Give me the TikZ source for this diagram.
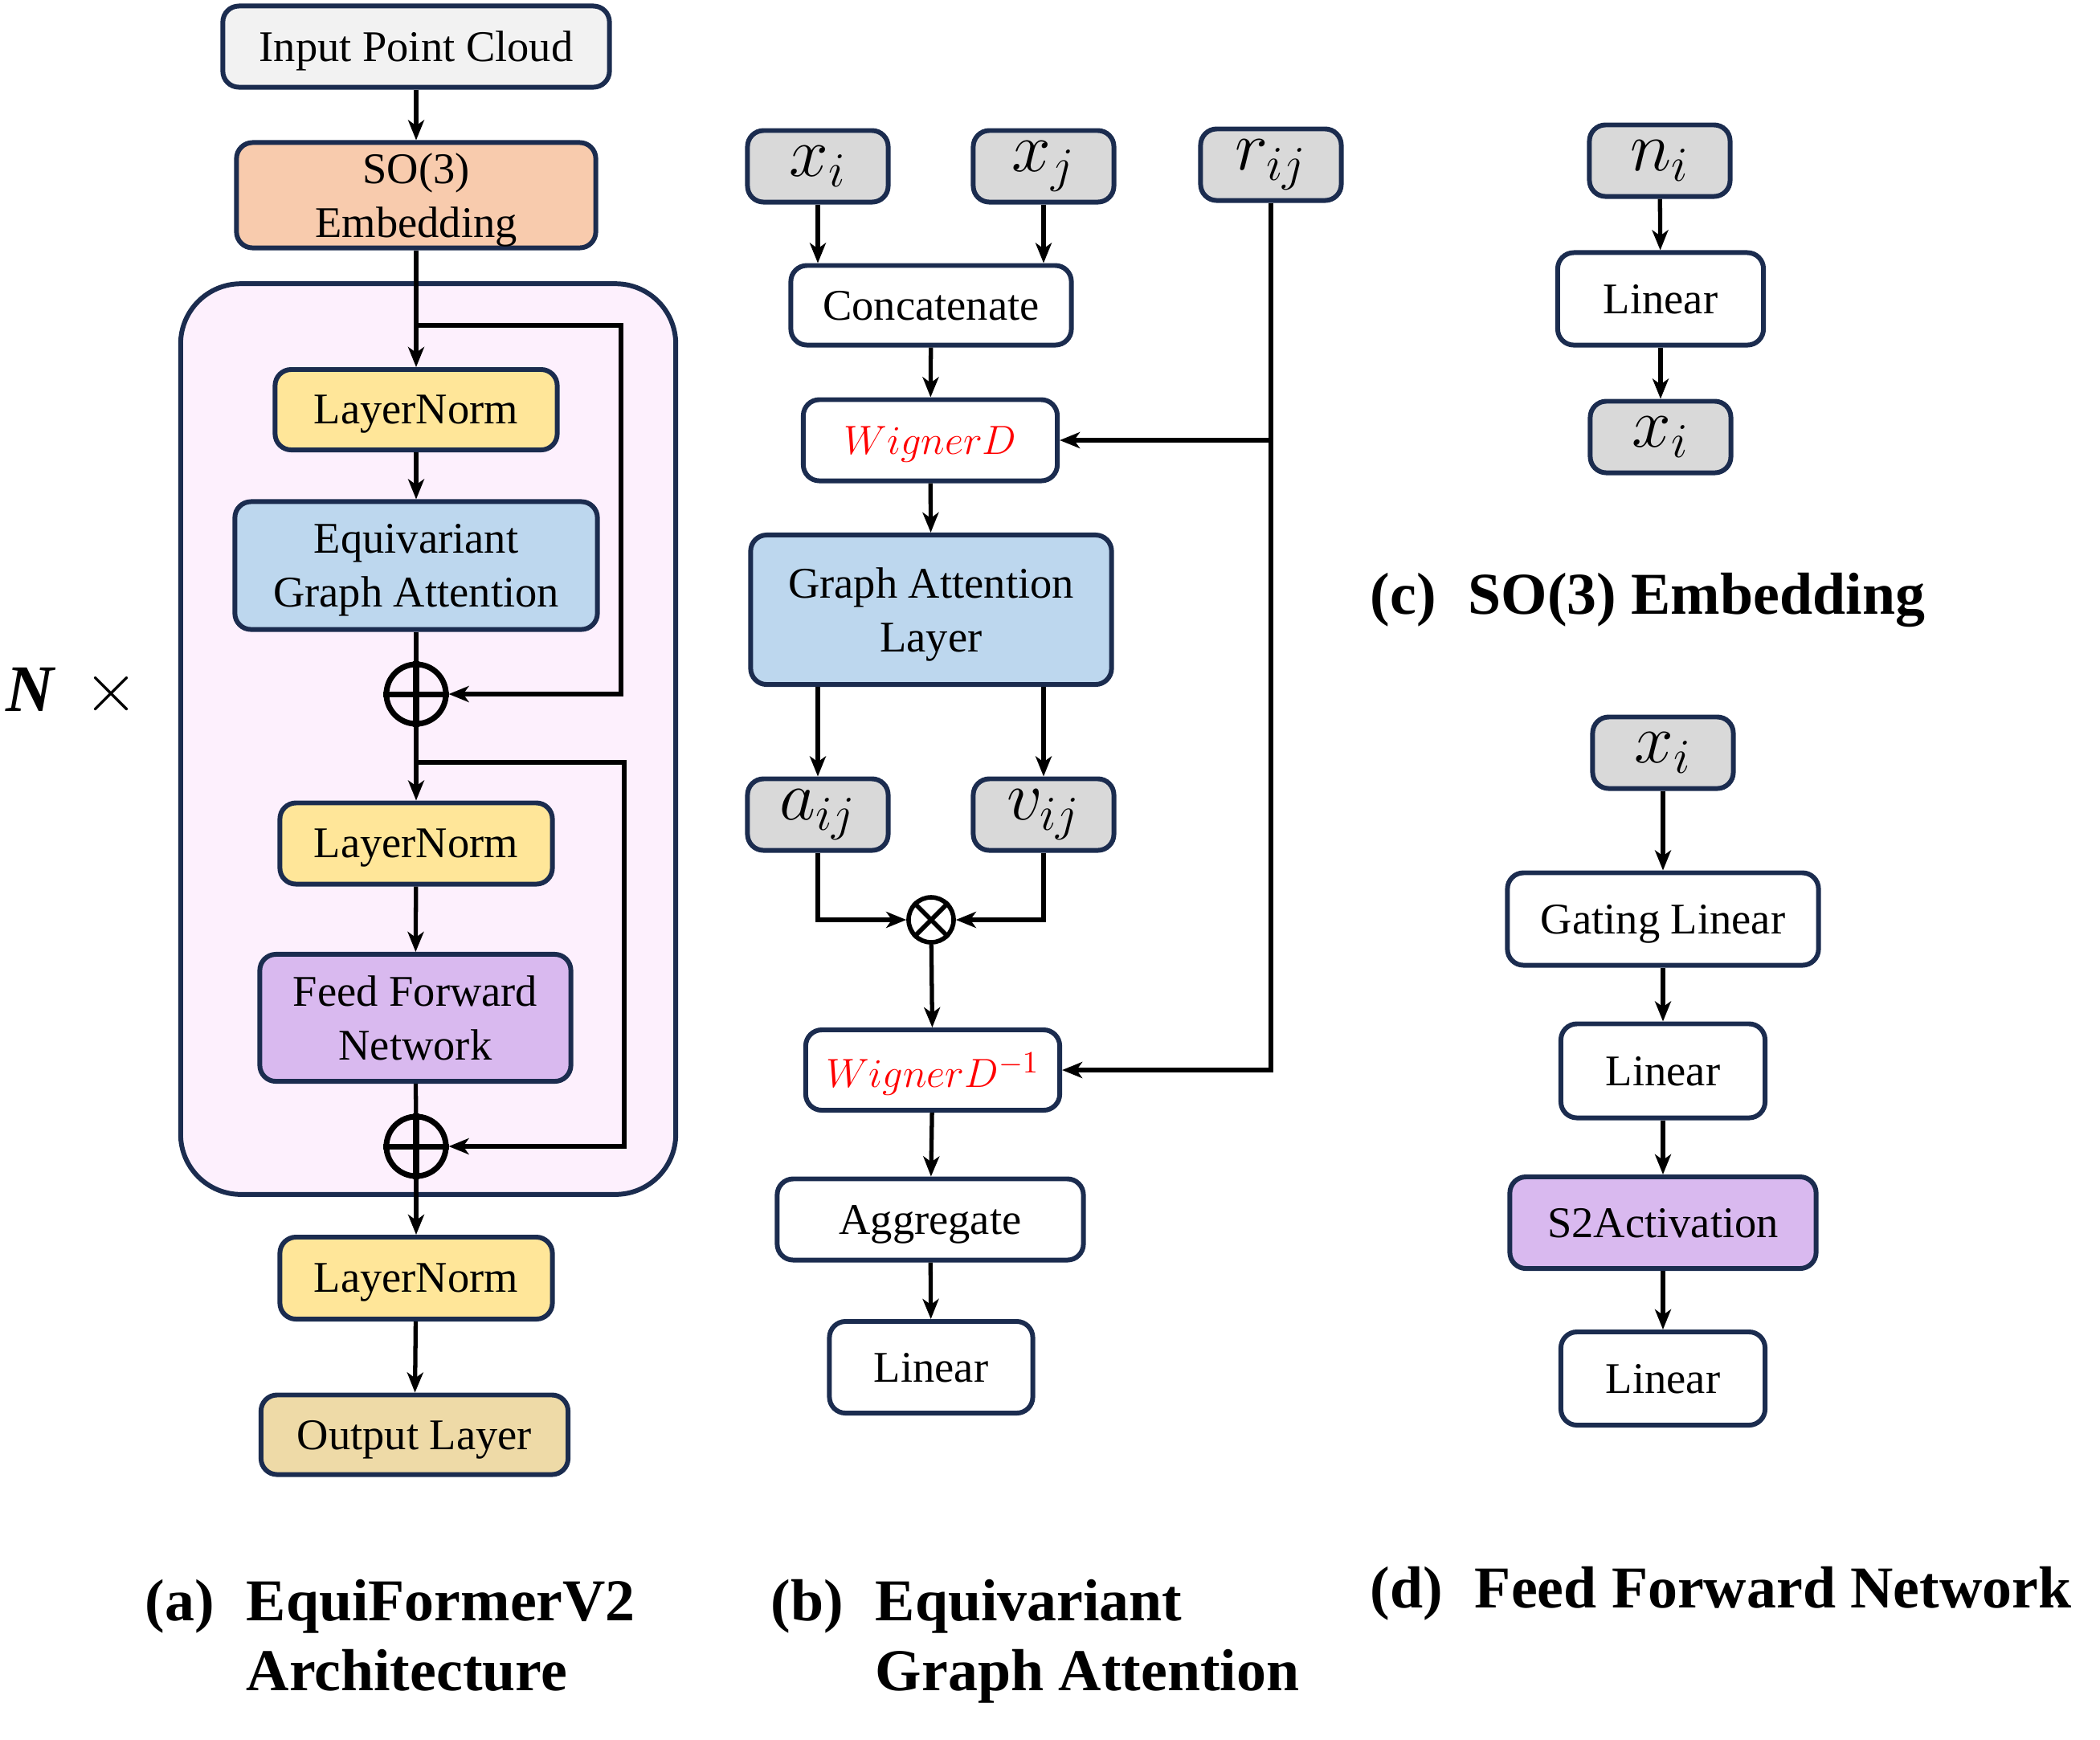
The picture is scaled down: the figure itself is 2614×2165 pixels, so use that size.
\documentclass[tikz,border=0pt]{standalone}
\usepackage{fontspec}
\setmainfont{Liberation Serif}
\usetikzlibrary{arrows.meta}

\definecolor{boxline}{HTML}{1B2C4F}
\definecolor{inputgray}{HTML}{F2F2F2}
\definecolor{vargray}{HTML}{D9D9D9}
\definecolor{embpeach}{HTML}{F8CBAD}
\definecolor{normyellow}{HTML}{FFE699}
\definecolor{attnblue}{HTML}{BDD7EE}
\definecolor{ffnpurple}{HTML}{D9B9EF}
\definecolor{outtan}{HTML}{EEDAA7}
\definecolor{blockpink}{HTML}{FDF0FD}

\tikzset{
  boxbase/.style={draw=boxline, line width=1.7pt, rounded corners=0.2cm, fill=white,
    align=center, inner sep=0pt},
  block/.style={boxbase, text depth=0pt, font=\fontsize{15.5}{19}\selectfont},
  var/.style={boxbase, fill=vargray, minimum width=1.75cm, minimum height=0.89cm,
    font=\fontsize{24}{26}\selectfont},
  wire/.style={line width=1.5pt},
  arr/.style={wire, -{Stealth[length=0.25cm,width=0.2cm,inset=0.07cm]}},
  sumop/.style={circle, draw, line width=2pt, minimum size=0.74cm, inner sep=0pt},
  mulop/.style={circle, draw, line width=1.6pt, minimum size=0.56cm, inner sep=0pt},
  captext/.style={font=\fontsize{21}{25}\selectfont\bfseries, inner sep=0pt}
}

\begin{document}
\begin{tikzpicture}[x=0.01cm, y=-0.01cm]
  \useasboundingbox (0,0) rectangle (2614,2165);

  % (a) EquiFormerV2
  \node[boxbase, fill=blockpink, rounded corners=0.75cm, minimum width=6.16cm, minimum height=11.33cm] (blk) at (533,920) {};
  \node[block, fill=inputgray, minimum width=4.81cm, minimum height=1.01cm] (inp) at (518,58) {Input Point Cloud};
  \node[block, fill=embpeach, minimum width=4.47cm, minimum height=1.31cm] (so3) at (518,243) {SO(3)\\Embedding};
  \node[block, fill=normyellow, minimum width=3.51cm, minimum height=1.0cm] (ln1) at (518,510) {LayerNorm};
  \node[block, fill=attnblue, minimum width=4.51cm, minimum height=1.59cm] (ega) at (518,704) {Equivariant\\Graph Attention};
  \node[sumop] (add1) at (518,864) {};
  \node[block, fill=normyellow, minimum width=3.39cm, minimum height=1.01cm] (ln2) at (518,1050) {LayerNorm};
  \node[block, fill=ffnpurple, minimum width=3.87cm, minimum height=1.58cm] (ffn) at (517,1267) {Feed Forward\\Network};
  \node[sumop] (add2) at (518,1427) {};
  \node[block, fill=normyellow, minimum width=3.39cm, minimum height=1.02cm] (ln3) at (518,1591) {LayerNorm};
  \node[block, fill=outtan, minimum width=3.82cm, minimum height=0.99cm] (out) at (516,1786) {Output Layer};
  \node[font=\fontsize{23.5}{26}\selectfont, inner sep=0pt] (rep) at (90,862) {\textbf{\textit{N}}\hspace{0.35cm}$\times$};

  \coordinate (sk1) at (773,405);
  \coordinate (sk2) at (777,949);

  \draw[arr] (inp) -- (so3);
  \draw[arr] (so3) -- (ln1);
  \draw[arr] (so3.south |- sk1) -- (sk1) |- (add1.east);
  \draw[arr] (ln1) -- (ega);
  \draw[wire] (ega) -- (add1);
  \draw[line width=2pt] (add1.north) -- (add1.south) (add1.west) -- (add1.east);
  \draw[arr] (add1) -- (ln2);
  \draw[arr] (add1.south |- sk2) -- (sk2) |- (add2.east);
  \draw[arr] (ln2) -- (ffn);
  \draw[wire] (ffn) -- (add2);
  \draw[line width=2pt] (add2.north) -- (add2.south) (add2.west) -- (add2.east);
  \draw[arr] (add2) -- (ln3);
  \draw[arr] (ln3) -- (out);

  % (b) graph attention
  \node[var] (xi) at (1018,207) {$x_i$};
  \node[var] (xj) at (1299,207) {$x_j$};
  \node[var] (rij) at (1582,205) {$r_{ij}$};
  \node[block, minimum width=3.49cm, minimum height=0.99cm] (cat) at (1159,380) {Concatenate};
  \node[block, minimum width=3.16cm, minimum height=1.01cm, font=\fontsize{15}{18}\selectfont] (wd) at (1158,548) {\color{red}$WignerD$};
  \node[block, fill=attnblue, minimum width=4.49cm, minimum height=1.86cm] (gal) at (1159,759) {Graph Attention\\Layer};
  \node[var] (aij) at (1018,1014) {$a_{ij}$};
  \node[var] (vij) at (1299,1014) {$v_{ij}$};
  \node[mulop] (mul) at (1159,1145) {};
  \node[block, minimum width=3.16cm, minimum height=1.0cm, font=\fontsize{15}{18}\selectfont] (wdi) at (1161,1332) {\color{red}$WignerD^{-1}$};
  \node[block, minimum width=3.81cm, minimum height=1.01cm] (agg) at (1158,1518) {Aggregate};
  \node[block, minimum width=2.53cm, minimum height=1.14cm] (lin1) at (1159,1702) {Linear};

  \draw[arr] (xi) -- (xi |- cat.north);
  \draw[arr] (xj) -- (xj |- cat.north);
  \draw[arr] (cat) -- (wd);
  \draw[arr] (rij) |- (wd);
  \draw[arr] (rij) |- (wdi);
  \draw[arr] (wd) -- (gal);
  \draw[arr] (gal.south -| aij) -- (aij);
  \draw[arr] (gal.south -| vij) -- (vij);
  \draw[arr] (aij) |- (mul);
  \draw[arr] (vij) |- (mul);
  \draw[line width=1.6pt] (mul.45) -- (mul.225) (mul.135) -- (mul.315);
  \draw[arr] (mul) -- (wdi);
  \draw[arr] (wdi) -- (agg);
  \draw[arr] (agg) -- (lin1);

  % (c) SO(3) embedding
  \node[var] (ni) at (2066,200) {$n_i$};
  \node[block, minimum width=2.56cm, minimum height=1.15cm] (lin2) at (2067,372) {Linear};
  \node[var] (xe) at (2067,544) {$x_i$};
  \draw[arr] (ni) -- (lin2);
  \draw[arr] (lin2) -- (xe);

  % (d) feed forward
  \node[var] (xf) at (2070,937) {$x_i$};
  \node[block, minimum width=3.87cm, minimum height=1.15cm] (gate) at (2070,1144) {Gating Linear};
  \node[block, minimum width=2.54cm, minimum height=1.17cm] (lin3) at (2070,1333) {Linear};
  \node[block, fill=ffnpurple, minimum width=3.81cm, minimum height=1.14cm] (s2a) at (2070,1522) {S2Activation};
  \node[block, minimum width=2.54cm, minimum height=1.16cm] (lin4) at (2070,1716) {Linear};
  \draw[arr] (xf) -- (gate);
  \draw[arr] (gate) -- (lin3);
  \draw[arr] (lin3) -- (s2a);
  \draw[arr] (s2a) -- (lin4);

  % captions
  \node[captext, anchor=base west] (capa) at (180,2017) {\begin{tabular}[t]{@{}l@{\hspace{0.4cm}}l@{}}(a) & EquiFormerV2\\ & Architecture\end{tabular}};
  \node[captext, anchor=base west] (capb) at (959,2017) {\begin{tabular}[t]{@{}l@{\hspace{0.4cm}}l@{}}(b) & Equivariant\\ & Graph Attention\end{tabular}};
  \node[captext, anchor=base west] (capc) at (1705,764) {(c)\hspace{0.4cm}SO(3) Embedding};
  \node[captext, anchor=base west] (capd) at (1705,2001) {(d)\hspace{0.4cm}Feed Forward Network};
\end{tikzpicture}
\end{document}
